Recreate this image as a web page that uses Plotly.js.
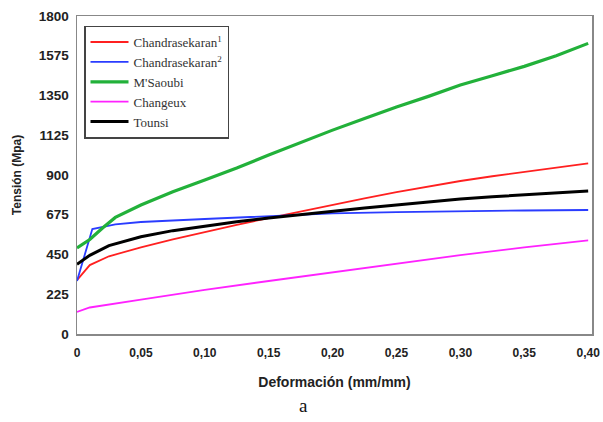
<!DOCTYPE html>
<html><head><meta charset="utf-8">
<script src="https://cdn.plot.ly/plotly-3.0.1.min.js"></script>
<style>html,body{margin:0;padding:0;background:#fff}#chart{width:603px;height:422px}</style>
</head><body><div id="chart"></div>
<script>
const xTickVals = [0,0.05,0.10,0.15,0.20,0.25,0.30,0.35,0.40];
const xTickText = ["0","0,05","0,10","0,15","0,20","0,25","0,30","0,35","0,40"];
const yTickVals = [0,225,450,675,900,1125,1350,1575,1800];

const strainRed = [0,0.01,0.025,0.05,0.075,0.10,0.125,0.15,0.175,0.20,0.225,0.25,0.275,0.30,0.325,0.35,0.375,0.40];
const chandra1 = [305,390,440,490,535,577,618,656,694,730,768,803,836,866,893,917,943,966];

const strainBlue = [0,0.012,0.03,0.05,0.10,0.15,0.20,0.25,0.30,0.35,0.40];
const chandra2 = [300,594,620,634,651,668,683,690,696,699,702];

const strainGreen = [0,0.01,0.02,0.03,0.05,0.075,0.10,0.125,0.15,0.175,0.20,0.225,0.25,0.275,0.30,0.325,0.35,0.375,0.40];
const msaoubi = [487,535,600,660,730,805,872,940,1013,1085,1154,1220,1285,1345,1409,1462,1515,1575,1645];

const strainMag = [0,0.01,0.05,0.10,0.15,0.20,0.25,0.30,0.35,0.40];
const changeux = [125,150,195,250,300,350,400,447,490,530];

const strainBlack = [0,0.01,0.025,0.05,0.075,0.10,0.125,0.15,0.175,0.20,0.225,0.25,0.275,0.30,0.325,0.35,0.375,0.40];
const tounsi = [395,445,500,550,585,611,636,656,676,695,713,730,748,764,777,788,800,810];

const traces = [
  {x: strainRed, y: chandra1, name: "Chandrasekaran<sup>1</sup>", mode: "lines", line: {color: "#ff2020", width: 1.8}},
  {x: strainBlue, y: chandra2, name: "Chandrasekaran<sup>2</sup>", mode: "lines", line: {color: "#2a3cff", width: 1.8}},
  {x: strainGreen, y: msaoubi, name: "M'Saoubi", mode: "lines", line: {color: "#22b13a", width: 3.2}},
  {x: strainMag, y: changeux, name: "Changeux", mode: "lines", line: {color: "#ff22ff", width: 1.8}},
  {x: strainBlack, y: tounsi, name: "Tounsi", mode: "lines", line: {color: "#000000", width: 3}}
];

const layout = {
  width: 603, height: 422,
  margin: {l: 77, r: 11, t: 16, b: 88},
  paper_bgcolor: "#fff", plot_bgcolor: "#fff",
  showlegend: true,
  legend: {x: 0.0136, y: 0.97, xanchor: "left", yanchor: "top",
    bgcolor: "#fff", bordercolor: "#444", borderwidth: 1.5,
    font: {family: "Liberation Serif, Times New Roman, serif", size: 13, color: "#333"},
    tracegroupgap: 0, itemwidth: 38},
  xaxis: {range: [0, 0.403], tickvals: xTickVals, ticktext: xTickText,
    showgrid: false, zeroline: false, showline: true, linecolor: "#888", linewidth: 1.5, mirror: true,
    ticks: "", ticklabelstandoff: 7,
    tickfont: {family: "Liberation Sans, Arial, sans-serif", size: 12, color: "#222", weight: "bold"},
    title: {text: "<b>Deformación (mm/mm)</b>", font: {family: "Liberation Sans, Arial, sans-serif", size: 14, color: "#222"}, standoff: 18}},
  yaxis: {range: [0, 1800], tickvals: yTickVals,
    showgrid: false, zeroline: false, showline: true, linecolor: "#888", linewidth: 1.5, mirror: true,
    ticks: "", ticklabelstandoff: 4,
    tickfont: {family: "Liberation Sans, Arial, sans-serif", size: 13.5, color: "#222", weight: "bold"},
    title: {text: "<b>Tensión (Mpa)</b>", font: {family: "Liberation Sans, Arial, sans-serif", size: 12, color: "#222"}, standoff: 14}},
  annotations: [{text: "a", xref: "paper", yref: "paper", x: 0.44, y: -0.226, xanchor: "center", yanchor: "middle",
    showarrow: false, font: {family: "Liberation Serif, Times New Roman, serif", size: 19, color: "#111"}}]
};
Plotly.newPlot("chart", traces, layout, {displayModeBar: false, staticPlot: true});
</script></body></html>
